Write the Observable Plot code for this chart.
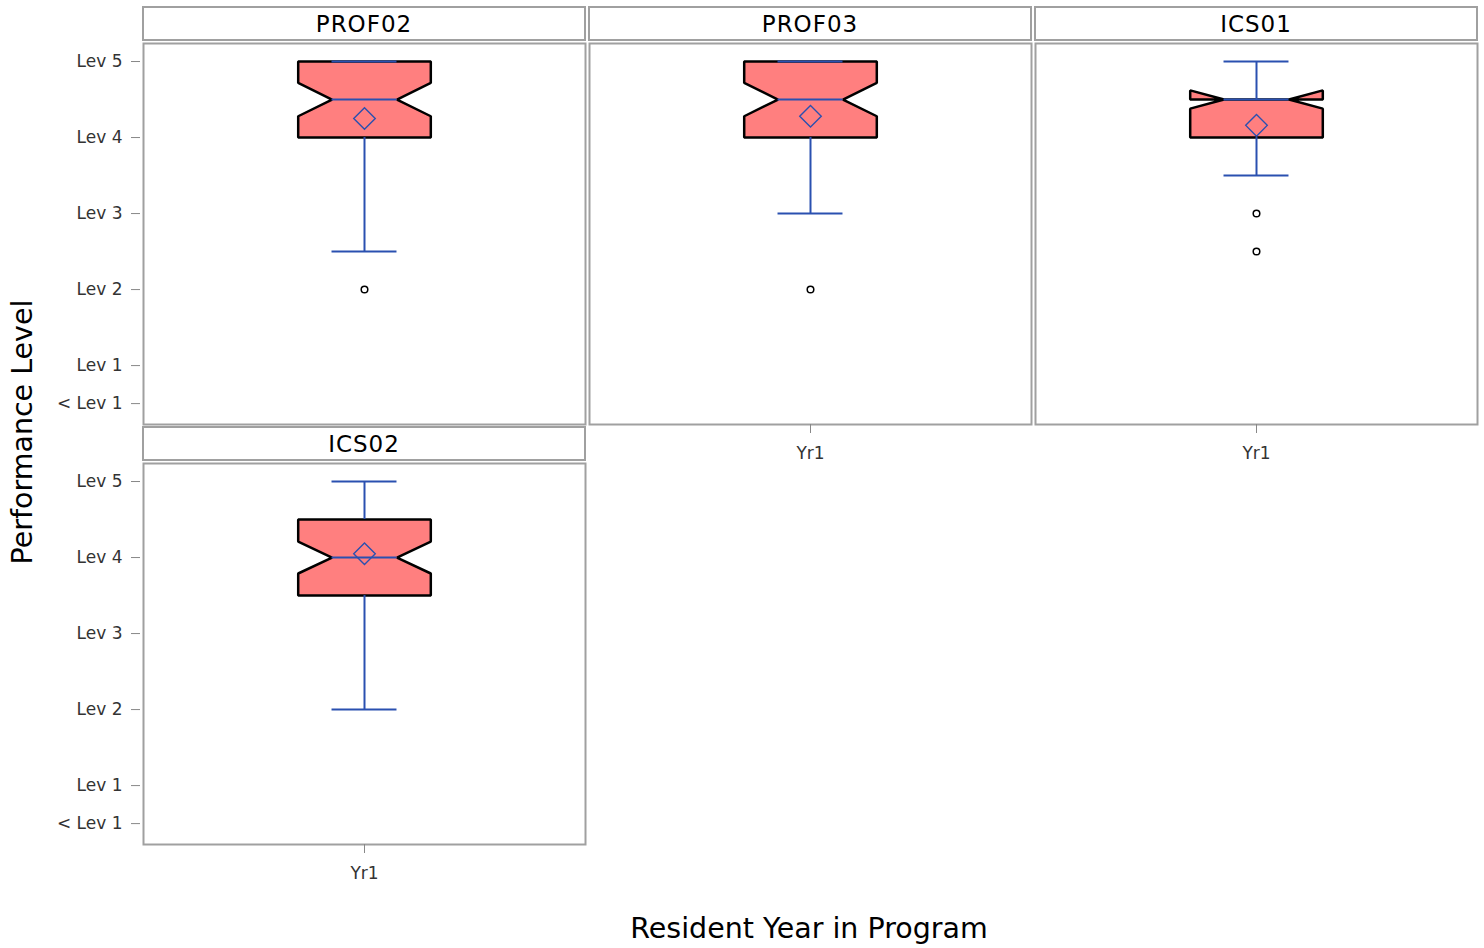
<!DOCTYPE html>
<html>
<head>
<meta charset="utf-8">
<script src="https://cdn.jsdelivr.net/npm/d3@7"></script>
<script src="https://cdn.jsdelivr.net/npm/@observablehq/plot@0.6"></script>
<style>
  body { margin: 0; background: #fff; font-family: "DejaVu Sans", sans-serif; }
  #wrap { position: relative; width: 1484px; height: 948px; overflow: hidden; }
  .panel { position: absolute; }
  .strip { position: absolute; box-sizing: border-box; border: 2px solid #a0a0a0; background: #fff;
           display: flex; align-items: center; justify-content: center; font-size: 23px; letter-spacing: 1px; color: #000; }
  .title { position: absolute; font-size: 28.5px; color: #000; white-space: nowrap; }
</style>
</head>
<body>
<div id="wrap"></div>
<script>
// ---- data ----
const panels = ["PROF02", "PROF03", "ICS01", "ICS02"];
const categories = ["Yr1"];
const q1 = [4, 4, 4, 3.5];
const median = [4.5, 4.5, 4.5, 4];
const q3 = [5, 5, 4.5, 4.5];
const whiskerLow = [2.5, 3, 3.5, 2];
const whiskerHigh = [5, 5, 5, 5];
const mean = [4.25, 4.28, 4.16, 4.05];
const notchLow = [4.28, 4.28, 4.38, 3.79];
const notchHigh = [4.72, 4.72, 4.62, 4.21];
const outliers = [[2], [2], [3, 2.5], []];
const yTicks = [0.5, 1, 2, 3, 4, 5];
const yTickLabels = ["< Lev 1", "Lev 1", "Lev 2", "Lev 3", "Lev 4", "Lev 5"];

// ---- layout ----
const colX = [143, 589, 1035];
const rowY = [43, 463];
const PW = 442, PH = 381;
const boxHalf = 0.30, innerHalf = 0.147;
const blue = "#2a50b0";
const wrap = document.getElementById("wrap");
const tickLabel = d => yTickLabels[yTicks.indexOf(d)];

panels.forEach((name, i) => {
  const col = i % 3, row = Math.floor(i / 3);
  const hasBelow = panels.length > i + 3;
  const ML = col === 0 ? 143 : 5, MT = 5, MR = 5, MB = 60;
  const cat = 0; // position of "Yr1"
  const poly = [
    [-boxHalf, q1[i]], [-boxHalf, notchLow[i]], [-innerHalf, median[i]], [-boxHalf, notchHigh[i]], [-boxHalf, q3[i]],
    [boxHalf, q3[i]], [boxHalf, notchHigh[i]], [innerHalf, median[i]], [boxHalf, notchLow[i]], [boxHalf, q1[i]]
  ].map(([dx, y]) => ({x: cat + dx, y}));
  const whiskers = [
    {y1: q3[i], y2: whiskerHigh[i]},
    {y1: whiskerLow[i], y2: q1[i]}
  ];
  const caps = [whiskerHigh[i], whiskerLow[i]];
  const marks = [
    Plot.frame({stroke: "#a0a0a0", strokeWidth: 2}),
    Plot.line(poly, {x: "x", y: "y", fill: "#ff7f7f", stroke: "#000", strokeWidth: 2.5, curve: "linear-closed", strokeLinejoin: "miter"}),
    Plot.ruleX(whiskers, {x: () => cat, y1: "y1", y2: "y2", stroke: blue, strokeWidth: 2}),
    Plot.ruleY(caps, {y: d => d, x1: cat - innerHalf, x2: cat + innerHalf, stroke: blue, strokeWidth: 2}),
    Plot.ruleY([median[i]], {y: d => d, x1: cat - innerHalf, x2: cat + innerHalf, stroke: blue, strokeWidth: 2}),
    Plot.dot([mean[i]], {x: () => cat, y: d => d, symbol: "diamond2", r: 9.7, stroke: blue, strokeWidth: 1.4, fill: "none"}),
    Plot.dot(outliers[i], {x: () => cat, y: d => d, r: 3.3, stroke: "#000", strokeWidth: 1.5, fill: "#fff"})
  ];
  if (col === 0) {
    marks.push(Plot.axisY(yTicks, {tickFormat: tickLabel, tickSize: 9, tickPadding: 9, dx: -3, fontSize: 17, stroke: "#888", fill: "#333", label: null}));
  }
  if (!hasBelow) {
    marks.push(Plot.axisX([0], {tickFormat: d => categories[d], tickSize: 9, tickPadding: 13, fontSize: 17, stroke: "#888", fill: "#333", label: null}));
  }
  const chart = Plot.plot({
    width: ML + PW + MR,
    height: MT + PH + MB,
    marginLeft: ML, marginRight: MR, marginTop: MT, marginBottom: MB,
    x: {domain: [-1, 1], axis: null},
    y: {domain: [0.225, 5.237], axis: null},
    style: {background: "transparent", overflow: "visible", fontFamily: "DejaVu Sans, sans-serif"},
    marks
  });
  chart.classList.add("panel");
  chart.style.left = (colX[col] - ML) + "px";
  chart.style.top = (rowY[row] - MT) + "px";
  wrap.appendChild(chart);

  const strip = document.createElement("div");
  strip.className = "strip";
  strip.textContent = name;
  strip.style.left = (colX[col] - 1) + "px";
  strip.style.top = (rowY[row] - 37) + "px";
  strip.style.width = (PW + 2) + "px";
  strip.style.height = "35px";
  wrap.appendChild(strip);
});

const yt = document.createElement("div");
yt.className = "title";
yt.textContent = "Performance Level";
yt.style.left = "22px"; yt.style.top = "432px";
yt.style.transform = "translate(-50%, -50%) rotate(-90deg)";
wrap.appendChild(yt);

const xt = document.createElement("div");
xt.className = "title";
xt.textContent = "Resident Year in Program";
xt.style.left = "809px"; xt.style.top = "928px";
xt.style.transform = "translate(-50%, -50%)";
wrap.appendChild(xt);
</script>
</body>
</html>
